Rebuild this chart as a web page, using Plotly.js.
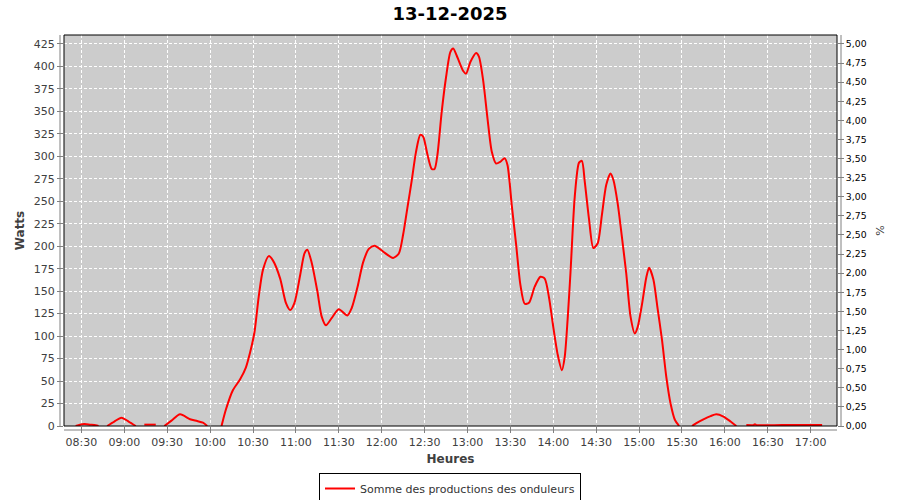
<!DOCTYPE html>
<html>
<head>
<meta charset="utf-8">
<script src="https://cdn.plot.ly/plotly-3.0.1.min.js"></script>
<style>
  html, body { margin: 0; padding: 0; background: #ffffff; }
  #chart { width: 900px; height: 500px; }
</style>
</head>
<body>
<div id="chart"></div>
<script>
// ---- Data ----
const chartDate = '2025-12-13';
const chartTitle = '13-12-2025';
const seriesName = 'Somme des productions des onduleurs';

const times = [
  '08:26','08:29','08:32','08:36','08:40','08:42','08:45',
  '08:48','08:53','08:58','09:03','09:08','09:11',
  '09:14','09:18','09:22','09:25',
  '09:28','09:33','09:39','09:46','09:51','09:55','09:58','10:03',
  '10:08','10:11','10:16','10:21','10:25','10:28','10:31','10:34','10:37','10:41',
  '10:44','10:49','10:53','10:56','10:59','11:03','11:06','11:08','11:11','11:15',
  '11:18','11:21','11:25','11:30','11:36','11:39','11:43','11:47','11:51','11:55',
  '12:01','12:08','12:12','12:15','12:18','12:21','12:24','12:27','12:29','12:32',
  '12:35','12:37','12:39','12:42','12:45','12:48','12:50','12:53','12:57','12:59',
  '13:02','13:06','13:08','13:11','13:14','13:17','13:20','13:23','13:26','13:28',
  '13:31','13:34','13:37','13:40','13:43','13:47','13:51','13:54','13:57','14:00',
  '14:03','14:06','14:08','14:10','14:12','14:15','14:18','14:20','14:22','14:25',
  '14:28','14:31','14:34','14:37','14:40','14:42','14:45','14:48','14:51','14:54',
  '14:57','14:59','15:02','15:05','15:07','15:10','15:13','15:16','15:19','15:22',
  '15:25','15:28','15:32',
  '15:37','15:41','15:45','15:50','15:54','15:59','16:04','16:08','16:12',
  '16:15','16:20','16:21','16:22','16:40','17:00','17:08'
];

const watts = [
  0, 1.5, 2.2, 1.5, 0.8, 0, null,
  0, 5, 9.2, 5, 0, null,
  1.5, 1.5, 1.5, null,
  0, 6, 13, 7.5, 5.5, 3.7, 0, null,
  0, 18, 40, 52, 65, 82, 104, 144, 174, 189,
  184, 164, 137, 129, 137, 168, 192, 196, 182, 150,
  122, 112, 120, 130, 123, 131, 154, 182, 197, 200.6,
  194, 187, 192, 213, 243, 273, 305, 324, 322, 302,
  286, 286, 302, 350, 388, 416, 420, 410, 395, 392,
  405, 415, 411, 384, 342, 305, 292, 294, 298, 290,
  245, 202, 157, 136, 137, 155, 166, 164, 143, 110,
  80, 62, 77, 118, 170, 255, 293, 295, 272, 230,
  198, 203, 235, 268, 281, 274, 248, 210, 170, 122,
  103, 110, 135, 165, 176, 163, 130, 96, 55, 25,
  7, 0, null,
  0, 4, 7.4, 11, 13, 10.5, 5, 0, null,
  1, 1, 2, 1, 1, 1, 1
];

// Axis settings
const xRange = ['08:17:50', '17:18:24'];
const firstTick = '08:30';
const wattsMax = 435;
const pctPerWatt = 5 / 425;   // right axis: 425 W <-> 5,00 %

// ---- Build ----
const FONT = 'DejaVu Sans, Verdana, sans-serif';
const xs = times.map(t => chartDate + ' ' + t);

const traces = [
  {
    type: 'scatter',
    mode: 'lines',
    name: seriesName,
    x: xs,
    y: watts,
    connectgaps: false,
    line: { color: '#FF0000', width: 2, shape: 'spline', smoothing: 0.7 },
    hoverinfo: 'x+y'
  },
  {
    type: 'scatter',
    mode: 'lines',
    x: [],
    y: [],
    yaxis: 'y2',
    showlegend: false,
    hoverinfo: 'skip'
  }
];

const axisGray = '#808080';
const tickGray = '#404040';

const layout = {
  width: 900,
  height: 500,
  margin: { l: 64, r: 63, t: 35, b: 74, pad: 0 },
  paper_bgcolor: '#FFFFFF',
  plot_bgcolor: '#CCCCCC',
  separators: ', ',
  showlegend: true,
  title: {
    text: chartTitle,
    font: { family: FONT, size: 18, color: '#000000', weight: 'bold' },
    x: 0.5, xref: 'container', xanchor: 'center',
    y: 0.9726, yref: 'container', yanchor: 'middle'
  },
  xaxis: {
    type: 'date',
    range: [chartDate + ' ' + xRange[0], chartDate + ' ' + xRange[1]],
    tick0: chartDate + ' ' + firstTick,
    dtick: 30 * 60 * 1000,
    tickformat: '%H:%M',
    showgrid: true,
    gridcolor: '#FFFFFF',
    gridwidth: 1,
    griddash: '3px,2px',
    zeroline: false,
    showline: false,
    ticks: 'outside',
    ticklen: 6,
    tickwidth: 1,
    tickcolor: axisGray,
    tickfont: { family: FONT, size: 11, color: tickGray },
    title: {
      text: 'Heures',
      font: { family: FONT, size: 12, color: tickGray, weight: 'bold' },
      standoff: 6
    }
  },
  yaxis: {
    range: [0, wattsMax],
    tick0: 0,
    dtick: 25,
    showgrid: true,
    gridcolor: '#FFFFFF',
    gridwidth: 1,
    griddash: '3px,2px',
    zeroline: false,
    showline: false,
    ticks: 'outside',
    ticklen: 6,
    tickwidth: 1,
    tickcolor: axisGray,
    tickfont: { family: FONT, size: 11, color: tickGray },
    title: {
      text: 'Watts',
      font: { family: FONT, size: 12, color: tickGray, weight: 'bold' },
      standoff: 6
    }
  },
  yaxis2: {
    overlaying: 'y',
    side: 'right',
    anchor: 'x',
    range: [0, wattsMax * pctPerWatt],
    tick0: 0,
    dtick: 0.25,
    tickformat: '.2f',
    showgrid: false,
    zeroline: false,
    showline: false,
    ticks: 'outside',
    ticklen: 6,
    tickwidth: 1,
    tickcolor: axisGray,
    tickfont: { family: FONT, size: 9.3, color: '#000000' },
    title: {
      text: '%',
      font: { family: FONT, size: 11, color: tickGray },
      standoff: 10
    }
  },
  legend: {
    orientation: 'h',
    x: 0.5, xref: 'container', xanchor: 'center',
    y: 1 - 473 / 500, yref: 'container', yanchor: 'top',
    bgcolor: '#FFFFFF',
    bordercolor: '#000000',
    borderwidth: 1,
    itemwidth: 30,
    font: { family: FONT, size: 11, color: '#333333' }
  },
  shapes: [
    // plot outline
    { type: 'rect', xref: 'paper', yref: 'paper', x0: 0, x1: 1, y0: 0, y1: 1,
      line: { color: '#000000', width: 1 }, fillcolor: 'rgba(0,0,0,0)', layer: 'above' },
    // offset axis lines (JFreeChart style)
    { type: 'line', xref: 'paper', yref: 'paper', xsizemode: 'pixel', xanchor: 0,
      x0: -4, x1: -4, y0: 0, y1: 1, line: { color: axisGray, width: 1 } },
    { type: 'line', xref: 'paper', yref: 'paper', xsizemode: 'pixel', xanchor: 1,
      x0: 4, x1: 4, y0: 0, y1: 1, line: { color: axisGray, width: 1 } },
    { type: 'line', xref: 'paper', yref: 'paper', ysizemode: 'pixel', yanchor: 0,
      y0: -4, y1: -4, x0: 0, x1: 1, line: { color: axisGray, width: 1 } }
  ]
};

Plotly.newPlot('chart', traces, layout, { displayModeBar: false, staticPlot: true });
</script>
</body>
</html>
